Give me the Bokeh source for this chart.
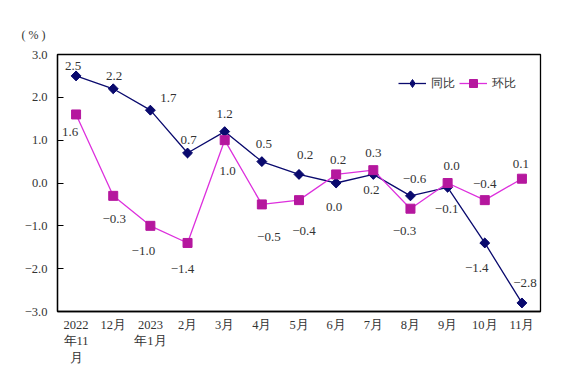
import math
from bokeh.plotting import figure
from bokeh.models import FixedTicker, ColumnDataSource, Legend, LegendItem, Range1d
from bokeh.core.properties import value
from bokeh.embed import file_html
from bokeh.resources import INLINE

categories = ["2022\n年11\n月", "12月", "2023\n年1月", "2月", "3月", "4月", "5月",
              "6月", "7月", "8月", "9月", "10月", "11月"]
tongbi = [2.5, 2.2, 1.7, 0.7, 1.2, 0.5, 0.2, 0.0, 0.2, -0.3, -0.1, -1.4, -2.8]
huanbi = [1.6, -0.3, -1.0, -1.4, 1.0, -0.5, -0.4, 0.2, 0.3, -0.6, 0.0, -0.4, 0.1]
tongbi_labels = ["2.5", "2.2", "1.7", "0.7", "1.2", "0.5", "0.2", "0.0", "0.2",
                 "\u22120.6", "\u22120.1", "\u22121.4", "\u22122.8"]
huanbi_labels = ["1.6", "\u22120.3", "\u22121.0", "\u22121.4", "1.0", "\u22120.5", "\u22120.4",
                 "0.2", "0.3", "\u22120.3", "0.0", "\u22120.4", "0.1"]
y_ticks = [-3, -2, -1, 0, 1, 2, 3]
y_tick_labels = ["\u22123.0", "\u22122.0", "\u22121.0", "0.0", "1.0", "2.0", "3.0"]

# label offsets in pixels (dx right, dy up)
tb_dx = [-3, 1, 18, 1, 0, 2, 6, -2, -2, 4, -1, -8, 3]
tb_dy = [10, 13, 12, 13, 18, 18, 19, -24, -16, 17, -22, -25, 20]
hb_dx = [-6, 1, -7, -5, 3, 7, 5, 2, 0, -6, 4, 0, -1]
hb_dy = [-18, -23, -25, -26, -31, -33, -31, 14, 17, -22, 17, 16, 15]

SERIF = "Liberation Serif"
NAVY = "#0a0a6e"
MAG_LINE = "#dd30dd"
MAG_MARK = "#b5179e"
TXT = "#333333"

x = list(range(len(categories)))

p = figure(width=560, height=368, output_backend="svg", toolbar_location=None,
           x_range=Range1d(-0.5, len(categories) - 0.5), y_range=Range1d(-3, 3),
           min_border_left=57, min_border_right=20, min_border_top=54, min_border_bottom=56)

p.title.text = "( % )"
p.title.text_font = SERIF
p.title.text_font_size = "12px"
p.title.text_font_style = "normal"
p.title.text_color = TXT
p.title.offset = -36
p.title.standoff = 25

p.xgrid.visible = False
p.ygrid.visible = False
p.outline_line_color = "black"
p.outline_line_width = 1.3
p.background_fill_color = "white"
p.border_fill_color = "white"

p.yaxis.ticker = FixedTicker(ticks=y_ticks)
p.yaxis.major_label_overrides = {t: l for t, l in zip(y_ticks, y_tick_labels)}
p.yaxis.major_tick_in = 6
p.yaxis.major_tick_out = 0
p.yaxis.minor_tick_line_color = None
p.yaxis.axis_line_color = "black"
p.yaxis.axis_line_width = 1.3
p.yaxis.major_tick_line_color = "black"
p.yaxis.major_label_standoff = 10

p.xaxis.ticker = FixedTicker(ticks=x)
p.xaxis.major_label_overrides = {i: c for i, c in zip(x, categories)}
p.xaxis.major_tick_in = 0
p.xaxis.major_tick_out = 0
p.xaxis.minor_tick_line_color = None
p.xaxis.axis_line_color = "black"
p.xaxis.axis_line_width = 1.3
p.xaxis.major_label_standoff = 6

for ax in (p.xaxis, p.yaxis):
    ax.major_label_text_font = SERIF
    ax.major_label_text_font_size = "12.5px"
    ax.major_label_text_color = TXT

src = ColumnDataSource(dict(x=x, tb=tongbi, hb=huanbi, tbl=tongbi_labels, hbl=huanbi_labels,
                            tbdx=tb_dx, tbdy=[-d for d in tb_dy],
                            hbdx=hb_dx, hbdy=[-d for d in hb_dy]))

l1 = p.line("x", "tb", source=src, line_color=NAVY, line_width=1.3)
# diamond glyph used for the legend (sits under the rotated-square markers)
leg_m1 = p.scatter("x", "tb", source=src, marker="diamond", size=9, fill_color=NAVY, line_color=NAVY)
m1 = p.scatter("x", "tb", source=src, marker="square", angle=math.pi / 4, size=7,
               fill_color=NAVY, line_color=NAVY)
l2 = p.line("x", "hb", source=src, line_color=MAG_LINE, line_width=1.3)
m2 = p.scatter("x", "hb", source=src, marker="square", size=9, fill_color=MAG_MARK, line_color=MAG_MARK)

p.text("x", "tb", text="tbl", source=src, x_offset="tbdx", y_offset="tbdy",
       text_align="center", text_baseline="middle", text_font=value(SERIF),
       text_font_size="13px", text_color=TXT)
p.text("x", "hb", text="hbl", source=src, x_offset="hbdx", y_offset="hbdy",
       text_align="center", text_baseline="middle", text_font=value(SERIF),
       text_font_size="13px", text_color=TXT)

legend = Legend(items=[LegendItem(label="同比", renderers=[l1, leg_m1]),
                       LegendItem(label="环比", renderers=[l2, m2])],
                orientation="horizontal", location=(341, 218),
                border_line_color=None, background_fill_alpha=0,
                glyph_width=28, label_text_font=SERIF, label_text_font_size="12px",
                label_text_color=TXT, padding=5, spacing=4, label_standoff=5)
p.add_layout(legend, "center")

open("out.html", "w").write(file_html(p, INLINE))
